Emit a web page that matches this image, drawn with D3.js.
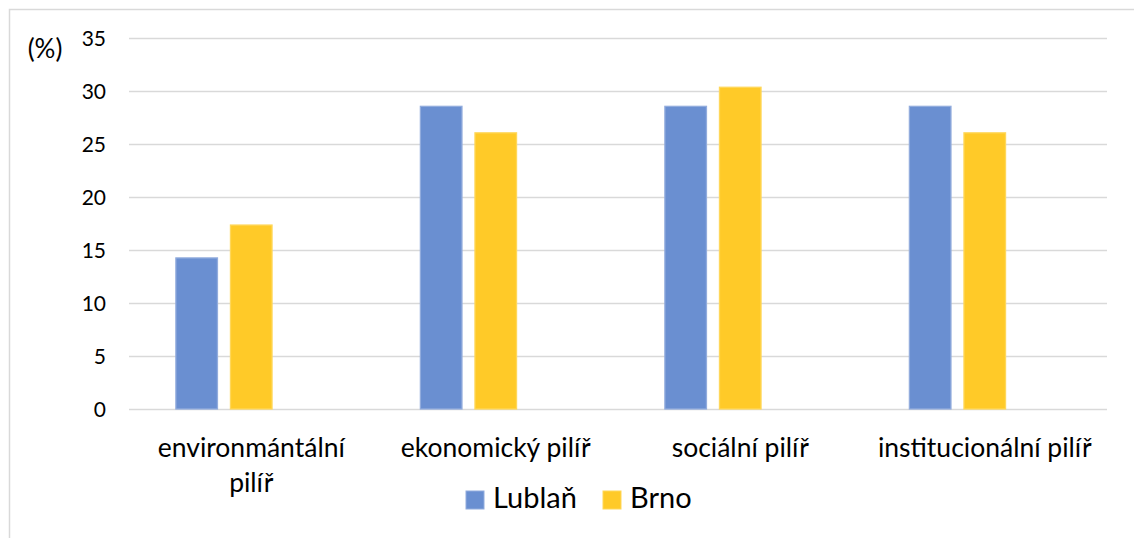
<!DOCTYPE html>
<html>
<head>
<meta charset="utf-8">
<script src="https://cdn.jsdelivr.net/npm/d3@7"></script>
<style>
  body { margin: 0; background: #fff; }
  svg text { font-family: Lato, "Open Sans", sans-serif; fill: #000; }
</style>
</head>
<body>
<div id="chart"></div>
<script>
// data
var categories = ["environmántální pilíř", "ekonomický pilíř", "sociální pilíř", "institucionální pilíř"];
var seriesNames = ["Lublaň", "Brno"];
var lublanValues = [14.3, 28.6, 28.6, 28.6];
var brnoValues = [17.4, 26.1, 30.4, 26.1];
var yTicks = [0, 5, 10, 15, 20, 25, 30, 35];
var colors = ["#6a8fd1", "#ffca28"];
var strokes = ["#92acdd", "#ffd75a"];

var W = 1134, H = 538;
var plotLeft = 129, plotRight = 1107, plotTop = 38, plotBottom = 409;

var svg = d3.select("#chart").append("svg")
	.attr("width", W)
	.attr("height", H);

// outer frame (only top and left edges visible)
svg.append("path")
	.attr("d", "M9.5," + H + " V9.5 H" + W)
	.attr("fill", "none")
	.attr("stroke", "#d9d9d9")
	.attr("stroke-width", 1.5);

var x0 = d3.scaleBand()
	.domain(categories)
	.range([plotLeft, plotRight])
	.paddingInner(0)
	.paddingOuter(0);

// three slots per group, Excel leaves the third empty
var x1 = d3.scaleBand()
	.domain([0, 1, 2])
	.range([0, x0.bandwidth()])
	.paddingInner(0.22)
	.paddingOuter(0.85);

var y = d3.scaleLinear()
	.domain([0, 35])
	.range([plotBottom, plotTop]);

// gridlines
svg.append("g")
	.selectAll("line")
	.data(yTicks)
	.enter().append("line")
	.attr("x1", plotLeft)
	.attr("x2", plotRight)
	.attr("y1", function(d){ return Math.round(y(d)) + 0.5; })
	.attr("y2", function(d){ return Math.round(y(d)) + 0.5; })
	.attr("stroke", "#d9d9d9")
	.attr("stroke-width", 1.3);

// y tick labels
svg.append("g")
	.selectAll("text")
	.data(yTicks)
	.enter().append("text")
	.attr("x", 106)
	.attr("y", function(d){ return y(d); })
	.attr("dy", "0.36em")
	.attr("text-anchor", "end")
	.style("font-size", "21px")
	.text(function(d){ return d; });

svg.append("text")
	.attr("x", 45)
	.attr("y", 49)
	.attr("dy", "0.36em")
	.attr("text-anchor", "middle")
	.style("font-size", "26px")
	.text("(%)");

// bars
var seriesValues = [lublanValues, brnoValues];
var groups = svg.append("g")
	.selectAll("g")
	.data(categories)
	.enter().append("g")
	.attr("transform", function(d){ return "translate(" + x0(d) + ",0)"; });

groups.selectAll("rect")
	.data(function(d, i){
		return seriesValues.map(function(vals, s){ return { s: s, v: vals[i] }; });
	})
	.enter().append("rect")
	.attr("x", function(d){ return x1(d.s) + 0.5; })
	.attr("width", x1.bandwidth() - 1)
	.attr("y", function(d){ return y(d.v) + 0.5; })
	.attr("height", function(d){ return plotBottom - y(d.v) - 0.5; })
	.attr("fill", function(d){ return colors[d.s]; })
	.attr("stroke", function(d){ return strokes[d.s]; })
	.attr("stroke-width", 1.3);

// category labels
var catLines = [["environmántální", "pilíř"], ["ekonomický pilíř"], ["sociální pilíř"], ["institucionální pilíř"]];
svg.append("g")
	.selectAll("text")
	.data(categories)
	.enter().append("text")
	.attr("x", function(d){ return x0(d) + x0.bandwidth() / 2; })
	.attr("y", 457)
	.attr("text-anchor", "middle")
	.style("font-size", "26.5px")
	.each(function(d, i){
		var t = d3.select(this);
		catLines[i].forEach(function(line, k){
			t.append("tspan")
				.attr("x", x0(d) + x0.bandwidth() / 2)
				.attr("dy", k === 0 ? 0 : 35)
				.text(line);
		});
	});

// legend
var legendX = [466, 603];
var legend = svg.append("g")
	.selectAll("g")
	.data(seriesNames)
	.enter().append("g")
	.attr("transform", function(d, i){ return "translate(" + legendX[i] + ",491)"; });

legend.append("rect")
	.attr("width", 18)
	.attr("height", 18)
	.attr("fill", function(d, i){ return colors[i]; })
	.attr("stroke", function(d, i){ return strokes[i]; })
	.attr("stroke-width", 1);

legend.append("text")
	.attr("x", 27)
	.attr("y", 17)
	.style("font-size", "29px")
	.text(function(d){ return d; });
</script>
</body>
</html>
